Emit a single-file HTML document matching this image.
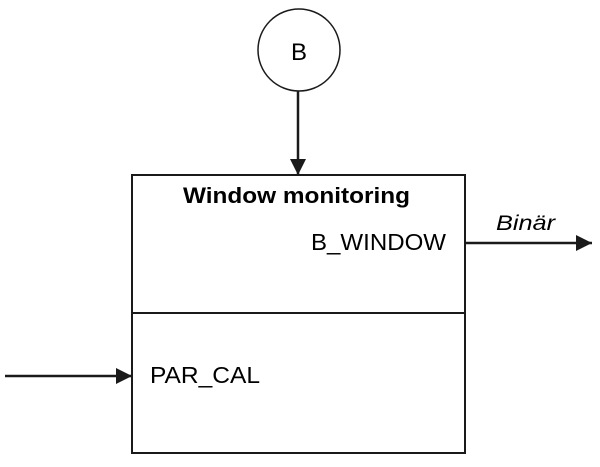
<!DOCTYPE html>
<html><head><meta charset="utf-8"><style>body{margin:0;background:#fff}</style></head>
<body>
<svg width="600" height="462" viewBox="0 0 600 462" xmlns="http://www.w3.org/2000/svg" font-family="Liberation Sans, sans-serif">
<defs><marker id="a" markerWidth="16" markerHeight="16" refX="14" refY="7" orient="auto" markerUnits="userSpaceOnUse" viewBox="0 0 14 14"><path d="M0,0 L14,7 L0,14 z" fill="#1a1a1a"/></marker></defs>
<circle cx="299" cy="50" r="41" fill="none" stroke="#1a1a1a" stroke-width="1.5"/>
<text x="299" y="60" font-size="24" text-anchor="middle">B</text>
<line x1="298" y1="91" x2="298" y2="175" stroke="#1a1a1a" stroke-width="2.5" marker-end="url(#a)"/>
<rect x="132" y="175" width="333" height="278" fill="none" stroke="#1a1a1a" stroke-width="2"/>
<line x1="132" y1="313" x2="465" y2="313" stroke="#1a1a1a" stroke-width="2"/>
<text x="183" y="203" font-size="22" font-weight="bold" textLength="227" lengthAdjust="spacingAndGlyphs">Window monitoring</text>
<text x="311" y="250" font-size="23" textLength="135" lengthAdjust="spacingAndGlyphs">B_WINDOW</text>
<line x1="465" y1="243" x2="592" y2="243" stroke="#1a1a1a" stroke-width="2.5" marker-end="url(#a)"/>
<text x="496" y="230" font-size="21" font-style="italic" textLength="59" lengthAdjust="spacingAndGlyphs">Binär</text>
<line x1="5" y1="376" x2="132" y2="376" stroke="#1a1a1a" stroke-width="2.5" marker-end="url(#a)"/>
<text x="150" y="383" font-size="23" textLength="110" lengthAdjust="spacingAndGlyphs">PAR_CAL</text>
</svg>
</body></html>
